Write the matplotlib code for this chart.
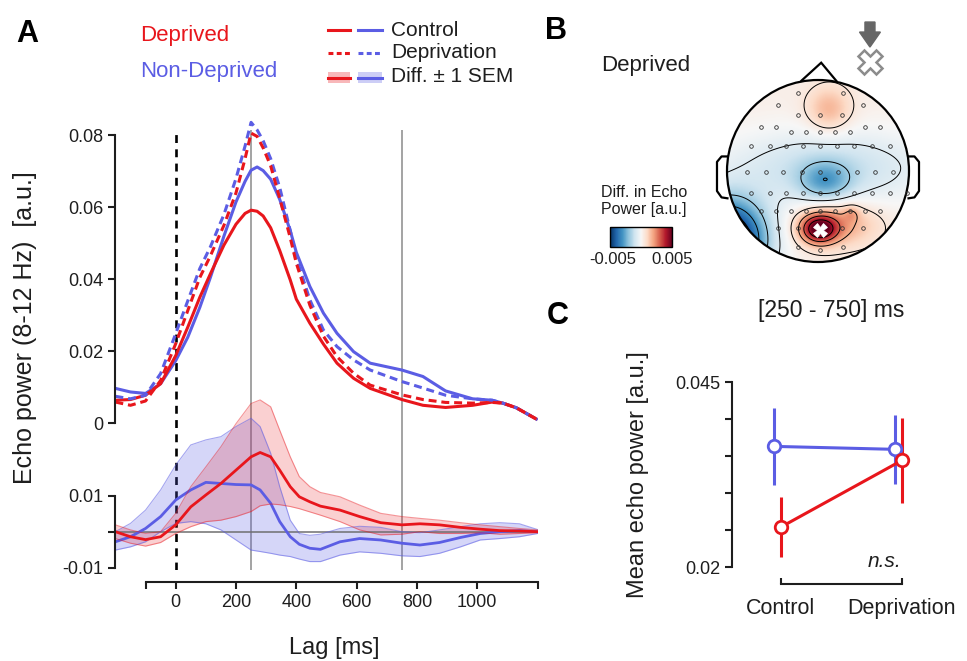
import numpy as np
import matplotlib.pyplot as plt
from matplotlib.patches import Circle, Polygon, Rectangle

plt.rcParams['font.family'] = ['Liberation Sans', 'DejaVu Sans']

RED = '#e8161c'
BLUE = '#5b5de4'
INK = '#1e1e1e'
GRAY = '#8a8a8a'

# ---------------- panel A (top): echo power, 8-12 Hz
lag_top = [-200, -150, -100, -50, 0, 40, 80, 115, 160, 200, 230, 250, 270, 290, 315,
           345, 380, 400, 445, 490, 535, 590, 645, 750, 820, 895, 985, 1050, 1085, 1130, 1200]
dep_control = [0.0064, 0.0066, 0.0078, 0.0110, 0.0188, 0.0267, 0.0350, 0.0415, 0.0495,
               0.0553, 0.0583, 0.0592, 0.0589, 0.0576, 0.0543, 0.0480, 0.0398, 0.0345,
               0.0278, 0.0220, 0.0167, 0.0125, 0.0097, 0.0066, 0.0050, 0.0044, 0.0050,
               0.0059, 0.0056, 0.0043, 0.0010]
dep_depriv = [0.0059, 0.0050, 0.0062, 0.0119, 0.0221, 0.0313, 0.0405, 0.0465, 0.0550,
              0.0640, 0.0735, 0.0806, 0.0797, 0.0765, 0.0715, 0.0625, 0.0515, 0.0445,
              0.0328, 0.0242, 0.0185, 0.0139, 0.0106, 0.0079, 0.0066, 0.0058, 0.0056,
              0.0058, 0.0056, 0.0043, 0.0010]
non_control = [0.0097, 0.0087, 0.0083, 0.0110, 0.0174, 0.0239, 0.0322, 0.0405, 0.0520,
               0.0615, 0.0672, 0.0703, 0.0712, 0.0702, 0.0678, 0.0622, 0.0535, 0.0475,
               0.0380, 0.0306, 0.0250, 0.0199, 0.0167, 0.0148, 0.0130, 0.0090, 0.0068,
               0.0064, 0.0056, 0.0043, 0.0010]
non_depriv = [0.0075, 0.0068, 0.0078, 0.0138, 0.0249, 0.0340, 0.0430, 0.0490, 0.0580,
              0.0680, 0.0770, 0.0836, 0.0815, 0.0785, 0.0735, 0.0655, 0.0535, 0.0460,
              0.0343, 0.0259, 0.0213, 0.0176, 0.0148, 0.0116, 0.0098, 0.0078, 0.0068,
              0.0064, 0.0056, 0.0043, 0.0010]

# ---------------- panel A (bottom): difference (deprivation - control) +- 1 SEM
lag_diff = [-200, -150, -100, -50, 0, 50, 100, 150, 200, 250, 280, 315, 345, 380,
            410, 445, 480, 545, 610, 680, 750, 810, 875, 945, 1010, 1075, 1140, 1200]
dep_diff = [0.0000, -0.0014, -0.0022, -0.0014, 0.0019, 0.0069, 0.0102, 0.0134, 0.0171,
            0.0208, 0.0220, 0.0208, 0.0171, 0.0125, 0.0097, 0.0083, 0.0071, 0.0060,
            0.0042, 0.0025, 0.0019, 0.0022, 0.0019, 0.0012, 0.0007, 0.0003, 0.0002, 0.0000]
dep_hi = [0.0019, 0.0005, -0.0005, 0.0000, 0.0051, 0.0125, 0.0180, 0.0236, 0.0300,
          0.0356, 0.0366, 0.0347, 0.0282, 0.0208, 0.0153, 0.0125, 0.0109, 0.0097,
          0.0074, 0.0051, 0.0042, 0.0037, 0.0032, 0.0025, 0.0019, 0.0014, 0.0009, 0.0005]
dep_lo = [-0.0019, -0.0032, -0.0040, -0.0030, -0.0005, 0.0014, 0.0028, 0.0032, 0.0042,
          0.0056, 0.0072, 0.0077, 0.0075, 0.0070, 0.0064, 0.0055, 0.0046, 0.0028,
          0.0005, -0.0009, -0.0007, 0.0000, -0.0005, -0.0005, -0.0003, -0.0007, -0.0005, -0.0003]
non_diff = [-0.0028, -0.0014, 0.0009, 0.0042, 0.0088, 0.0116, 0.0137, 0.0134, 0.0131,
            0.0130, 0.0116, 0.0079, 0.0028, -0.0014, -0.0035, -0.0046, -0.0049, -0.0028,
            -0.0019, -0.0023, -0.0032, -0.0037, -0.0030, -0.0016, -0.0005, 0.0000, 0.0003, 0.0000]
non_hi = [0.0000, 0.0023, 0.0060, 0.0116, 0.0185, 0.0241, 0.0255, 0.0264, 0.0292,
          0.0315, 0.0292, 0.0218, 0.0125, 0.0032, -0.0005, -0.0010, -0.0007, 0.0009,
          0.0015, 0.0012, 0.0000, -0.0003, 0.0005, 0.0014, 0.0022, 0.0025, 0.0022, 0.0006]
non_lo = [-0.0051, -0.0042, -0.0028, 0.0000, 0.0023, 0.0028, 0.0022, 0.0005, -0.0023,
          -0.0051, -0.0055, -0.0060, -0.0065, -0.0069, -0.0076, -0.0083, -0.0083, -0.0065,
          -0.0056, -0.0060, -0.0067, -0.0069, -0.0060, -0.0042, -0.0023, -0.0019, -0.0014, -0.0005]

window_edges = [250, 750]
x_ticks = [-100, 0, 200, 400, 600, 800, 1000, 1200]

# ---------------- panel C: mean echo power in [250 - 750] ms
conditions = ['Control', 'Deprivation']
c_dep_mean = [0.0254, 0.0344]
c_dep_err = [0.0041, 0.0057]
c_non_mean = [0.0363, 0.0359]
c_non_err = [0.0052, 0.0047]

# ---------------- panel B: topography (head radius = 1)
electrode_rows = [
    (0.853, [-0.223, 0.278]),
    (0.725, [-0.443, 0.498]),
    (0.615, [-0.216, 0.022, 0.260]),
    (0.487, [-0.626, -0.462, 0.516, 0.681]),
    (0.432, [-0.300, -0.132, 0.022, 0.187, 0.352]),
    (0.278, [-0.740, -0.527, -0.352, -0.161, 0.022, 0.205, 0.399, 0.597, 0.791]),
    (-0.007, [-0.777, -0.571, -0.381, -0.179, 0.022, 0.223, 0.425, 0.626, 0.828]),
    (-0.238, [-0.740, -0.527, -0.352, -0.161, 0.022, 0.205, 0.399, 0.597, 0.791, 0.974]),
    (-0.436, [-0.626, -0.462, -0.297, -0.132, 0.022, 0.187, 0.352, 0.516, 0.681]),
    (-0.630, [-0.443, -0.216, 0.260, 0.498]),
    (-0.830, [-0.223, 0.278]),
    (-0.868, [0.022]),
]
# sources of the difference map: x, y, amplitude, sx, sy
topo_base = 0.0003
src_x = [0.12, 0.10, 0.08, 0.01, 0.22, 0.37, -1.00]
src_y = [0.67, 0.03, -0.12, -0.64, -0.58, -0.47, -0.75]
src_amp = [0.00145, -0.0015, -0.0020, 0.0043, 0.0018, 0.0009, -0.0065]
src_sx = [0.17, 0.80, 0.20, 0.14, 0.30, 0.06, 0.30]
src_sy = [0.175, 0.289, 0.15, 0.11, 0.17, 0.06, 0.30]
topo_levels = [-0.0042, -0.003, -0.0018, -0.0006, 0.0006, 0.0018, 0.003, 0.0042]
peak_electrode = (0.022, -0.65)

fig = plt.figure(figsize=(9.67, 6.61), dpi=100)
W, H = 967, 661


def px_axes(x0, y0, x1, y1, **kw):
    return fig.add_axes([x0 / W, 1 - y1 / H, (x1 - x0) / W, (y1 - y0) / H], **kw)


def style_spines(ax):
    for s in ax.spines.values():
        s.set_visible(False)
    ax.tick_params(colors=INK, labelsize=13, width=1.5, length=5)


########## panel A
ax_v = px_axes(115.4, 130, 537.5, 570)
ax_v.set_xlim(-200, 1200)
ax_v.set_ylim(0, 1)
ax_v.axis('off')
ax_v.vlines(window_edges, 0, 1, color=GRAY, lw=1.1)
ax_v.vlines([0], 0, 1, color='k', lw=1.9, linestyles=(0, (3.0, 2.4)))

ax_top = px_axes(115.4, 119.1, 537.5, 423.3, facecolor='none')
style_spines(ax_top)
ax_top.set_xlim(-200, 1200)
ax_top.set_ylim(0, 0.0845)
ax_top.spines['left'].set_visible(True)
ax_top.spines['left'].set_bounds(0, 0.08)
ax_top.spines['left'].set_linewidth(1.5)
ax_top.spines['left'].set_color(INK)
ax_top.set_xticks([])
ax_top.set_yticks([0, 0.02, 0.04, 0.06, 0.08])
ax_top.set_yticklabels(['0', '0.02', '0.04', '0.06', '0.08'])
ax_top.plot(lag_top, non_control, color=BLUE, lw=2.2, solid_capstyle='butt')
ax_top.plot(lag_top, dep_control, color=RED, lw=2.2, solid_capstyle='butt')
ax_top.plot(lag_top, non_depriv, color=BLUE, lw=2.2, dashes=(2.6, 1.6))
ax_top.plot(lag_top, dep_depriv, color=RED, lw=2.2, dashes=(2.6, 1.6))

ax_low = px_axes(115.4, 394.9, 537.5, 569.5, facecolor='none')
style_spines(ax_low)
ax_low.set_xlim(-200, 1200)
ax_low.set_ylim(-0.0105, 0.038)
for side in ['left', 'bottom']:
    ax_low.spines[side].set_visible(True)
    ax_low.spines[side].set_linewidth(1.5)
    ax_low.spines[side].set_color(INK)
ax_low.spines['left'].set_bounds(-0.01, 0.01)
ax_low.spines['bottom'].set_bounds(-100, 1200)
ax_low.spines['bottom'].set_position(('outward', 9))
ax_low.set_yticks([-0.01, 0, 0.01])
ax_low.set_yticklabels(['-0.01', '', '0.01'])
ax_low.set_xticks(x_ticks)
ax_low.set_xticklabels(['' if (t < 0 or t > 1000) else str(t) for t in x_ticks])
ax_low.axhline(0, color='#6f6f6f', lw=1.1)
ax_low.fill_between(lag_diff, non_lo, non_hi, color=BLUE, alpha=0.25, lw=0)
ax_low.plot(lag_diff, non_lo, color=BLUE, lw=0.8, alpha=0.55)
ax_low.plot(lag_diff, non_hi, color=BLUE, lw=0.8, alpha=0.55)
ax_low.plot(lag_diff, non_diff, color=BLUE, lw=2.0)
ax_low.fill_between(lag_diff, dep_lo, dep_hi, color=RED, alpha=0.2, lw=0)
ax_low.plot(lag_diff, dep_lo, color=RED, lw=0.8, alpha=0.45)
ax_low.plot(lag_diff, dep_hi, color=RED, lw=0.8, alpha=0.45)
ax_low.plot(lag_diff, dep_diff, color=RED, lw=2.0)

########## panel B
ax_b = px_axes(700, 20, 940, 280, facecolor='none')
ax_b.set_xlim(-118 / 91, 122 / 91)
ax_b.set_ylim(-109 / 91, 151 / 91)
ax_b.axis('off')
g = np.linspace(-1, 1, 241)
gx, gy = np.meshgrid(g, g)
field = np.full_like(gx, topo_base)
for cx, cy, a, sx, sy in zip(src_x, src_y, src_amp, src_sx, src_sy):
    field += a * np.exp(-((gx - cx) ** 2 / (2 * sx ** 2) + (gy - cy) ** 2 / (2 * sy ** 2)))
head = Circle((0, 0), 1, transform=ax_b.transData, facecolor='none')
im = ax_b.imshow(field, extent=(-1, 1, -1, 1), origin='lower', cmap='RdBu_r',
                 vmin=-0.005, vmax=0.005, interpolation='bilinear')
im.set_clip_path(head)
cs = ax_b.contour(gx, gy, field, levels=topo_levels, colors='k', linewidths=0.7,
                  negative_linestyles='solid')
cs.set_clip_path(head)
ex = [x for y, xs in electrode_rows for x in xs]
ey = [y for y, xs in electrode_rows for x in xs]
ax_b.plot(ex, ey, 'o', ms=2.6, mfc='none', mec='#333333', mew=0.6)
ax_b.plot(*peak_electrode, marker='X', ms=10, color='white', mec='white', mew=0.5)
ax_b.add_patch(Circle((0, 0), 1, fill=False, lw=1.6, ec='k'))
ax_b.add_patch(Polygon([(-0.19, 0.985), (0.035, 1.19), (0.21, 0.98)], closed=False,
                       fill=False, lw=1.6, ec='k'))
for side in [-1, 1]:
    ax_b.plot([side * 0.995, side * 1.06, side * 1.11, side * 1.11, side * 1.06, side * 0.995],
              [0.16, 0.16, 0.1, -0.22, -0.29, -0.3], color='k', lw=1.6)
ax_b.arrow(0.571, 1.637, 0, -0.11, width=0.11, head_width=0.23, head_length=0.165,
           color='#666666', length_includes_head=False)
ax_b.plot(0.571, 1.198, marker='X', ms=17, mfc='white', mec='#8c8c8c', mew=1.8)

cax = px_axes(610, 227, 672, 247)
cb = fig.colorbar(im, cax=cax, orientation='horizontal')
cb.set_ticks([])
cb.outline.set_linewidth(1.0)

########## panel C
ax_c = px_axes(732, 382, 926, 567, facecolor='none')
style_spines(ax_c)
ax_c.set_xlim(-0.405, 1.2)
ax_c.set_ylim(0.02, 0.045)
for side in ['left', 'bottom']:
    ax_c.spines[side].set_visible(True)
    ax_c.spines[side].set_linewidth(1.5)
    ax_c.spines[side].set_color(INK)
ax_c.spines['bottom'].set_bounds(0, 1)
ax_c.spines['bottom'].set_position(('outward', 12))
ax_c.set_yticks([0.02, 0.025, 0.03, 0.035, 0.04, 0.045])
ax_c.set_yticklabels(['0.02', '', '', '', '', '0.045'])
ax_c.set_xticks([0, 1])
ax_c.set_xticklabels(conditions, fontsize=15.5)
ax_c.tick_params(axis='x', direction='in', length=4, pad=10)
xpos = np.arange(len(conditions))
for pos, mean, err, col in [(xpos - 0.058, c_non_mean, c_non_err, BLUE),
                            (xpos, c_dep_mean, c_dep_err, RED)]:
    ax_c.errorbar(pos, mean, yerr=err, color=col, lw=2.2, elinewidth=2.2, capsize=0,
                  marker='o', ms=9, mfc='white', mec=col, mew=2.0, clip_on=False)
ax_c.text(0.86, 0.0208, 'n.s.', fontsize=15, style='italic', color=INK, ha='center', va='center')

########## texts and legend
ax_o = fig.add_axes([0, 0, 1, 1], facecolor='none')
ax_o.set_xlim(0, W)
ax_o.set_ylim(H, 0)
ax_o.axis('off')
for lab, x, y in [('A', 27, 34), ('B', 556, 31), ('C', 558, 316)]:
    ax_o.text(x, y, lab, fontsize=22, fontweight='bold', color='k', ha='center', va='center')
ax_o.text(140, 36, 'Deprived', color=RED, fontsize=16, va='center')
ax_o.text(140, 71, 'Non-Deprived', color=BLUE, fontsize=16, va='center')
ax_o.plot([328, 350], [30, 30], color=RED, lw=2.2)
ax_o.plot([358, 382], [30, 30], color=BLUE, lw=2.2)
ax_o.plot([328, 350], [53, 53], color=RED, lw=2.2, dashes=(1.6, 1.1))
ax_o.plot([358, 382], [53, 53], color=BLUE, lw=2.2, dashes=(1.6, 1.1))
ax_o.add_patch(Rectangle((328, 72), 22, 11, color=RED, alpha=0.3, lw=0))
ax_o.add_patch(Rectangle((358, 72), 24, 11, color=BLUE, alpha=0.3, lw=0))
ax_o.plot([328, 350], [77.5, 77.5], color=RED, lw=2.2)
ax_o.plot([358, 382], [77.5, 77.5], color=BLUE, lw=2.2)
for txt, y in [('Control', 30), ('Deprivation', 53), ('Diff. ± 1 SEM', 77)]:
    ax_o.text(391, y, txt, fontsize=15, color=INK, va='center')
ax_o.text(25, 328, 'Echo power (8-12 Hz)  [a.u.]', fontsize=18, rotation=90,
          color=INK, ha='center', va='center')
ax_o.text(334, 648, 'Lag [ms]', fontsize=17, color=INK, ha='center', va='center')
ax_o.text(646, 66, 'Deprived', fontsize=16, color=INK, ha='center', va='center')
ax_o.text(644, 201, 'Diff. in Echo\nPower [a.u.]', fontsize=11.5, color=INK,
          ha='center', va='center', linespacing=1.15)
ax_o.text(613, 260, '-0.005', fontsize=12, color=INK, ha='center', va='center')
ax_o.text(672, 260, '0.005', fontsize=12, color=INK, ha='center', va='center')
ax_o.text(831, 311, '[250 - 750] ms', fontsize=16.5, color=INK, ha='center', va='center')
ax_o.text(638, 475, 'Mean echo power [a.u.]', fontsize=17, rotation=90,
          color=INK, ha='center', va='center')

fig.savefig('out.png', dpi=100)
